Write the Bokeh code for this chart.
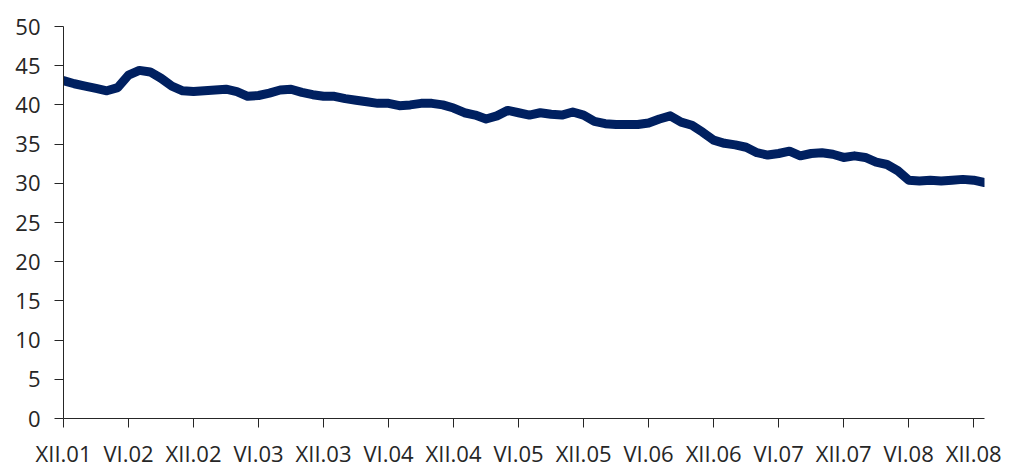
from bokeh.plotting import figure
from bokeh.models import FixedTicker, Range1d, ColumnDataSource
from bokeh.embed import file_html
from bokeh.resources import INLINE

# Monthly series, XII.01 ... I.09
values = [
    43.1, 42.7, 42.4, 42.1, 41.8, 42.2, 43.8, 44.4, 44.2, 43.4, 42.4, 41.8,
    41.7, 41.8, 41.9, 42.0, 41.7, 41.1, 41.2, 41.5, 41.9, 42.0, 41.6, 41.3,
    41.1, 41.1, 40.8, 40.6, 40.4, 40.2, 40.2, 39.9, 40.0, 40.2, 40.2, 40.0,
    39.6, 39.0, 38.7, 38.2, 38.6, 39.3, 39.0, 38.7, 39.0, 38.8, 38.7, 39.1,
    38.7, 37.9, 37.6, 37.5, 37.5, 37.5, 37.7, 38.2, 38.6, 37.8, 37.4, 36.5,
    35.5, 35.1, 34.9, 34.6, 33.9, 33.6, 33.8, 34.1, 33.5, 33.8, 33.9, 33.7,
    33.3, 33.5, 33.3, 32.7, 32.4, 31.6, 30.4, 30.3, 30.4, 30.3, 30.4, 30.5,
    30.4, 30.1,
]
tick_labels = ["XII.01", "VI.02", "XII.02", "VI.03", "XII.03", "VI.04", "XII.04",
               "VI.05", "XII.05", "VI.06", "XII.06", "VI.07", "XII.07", "VI.08", "XII.08"]
y_ticks = [0, 5, 10, 15, 20, 25, 30, 35, 40, 45, 50]

months = list(range(len(values)))
tick_pos = [i * 6 for i in range(len(tick_labels))]

src = ColumnDataSource(dict(x=months, y=values))

p = figure(width=1008, height=470, output_backend="svg", toolbar_location=None,
           x_range=Range1d(0, len(values) - 1), y_range=Range1d(0, 50),
           min_border_left=63, min_border_right=24, min_border_top=26, min_border_bottom=50)

p.line("x", "y", source=src, line_color="#002060", line_width=9,
       line_join="round", line_cap="round")

p.grid.visible = False
p.outline_line_color = None
p.background_fill_color = "white"
p.border_fill_color = "white"

font = "Open Sans"
p.xaxis.ticker = FixedTicker(ticks=tick_pos)
p.xaxis.major_label_overrides = {t: l for t, l in zip(tick_pos, tick_labels)}
p.yaxis.ticker = FixedTicker(ticks=y_ticks)

for ax in (p.xaxis[0], p.yaxis[0]):
    ax.axis_line_color = "#262626"
    ax.axis_line_width = 1
    ax.major_tick_line_color = "#262626"
    ax.major_tick_in = 0
    ax.minor_tick_line_color = None
    ax.major_label_text_font = font
    ax.major_label_text_font_size = "22px"
    ax.major_label_text_color = "#262626"

p.xaxis.major_tick_out = 9
p.yaxis.major_tick_out = 9
p.xaxis.major_label_standoff = 10
p.yaxis.major_label_standoff = 14

html = file_html(p, INLINE)
html = html.replace("<head>", "<head><style>html,body{overflow:hidden}</style>", 1)
open("out.html", "w").write(html)
